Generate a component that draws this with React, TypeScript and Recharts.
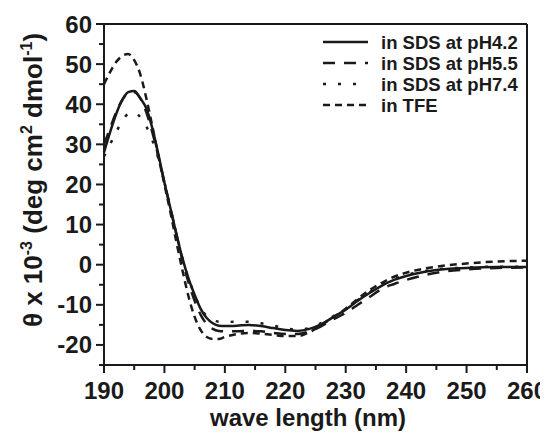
import React from "react";
import { LineChart, Line, XAxis, YAxis, ReferenceLine, Legend } from "recharts";

const wavelength = [190,191,192,193,194,195,196,197,198,199,200,201,202,203,204,205,206,207,208,209,210,212,214,216,218,220,222,224,226,228,230,232,234,236,238,240,245,250,255,260];
const sdsPH42 = [28,33,37.5,41,43,43.3,41.5,39,34,27.5,20.5,14,7.5,1.5,-3.5,-7.5,-11,-13.3,-14.6,-15.2,-15.3,-15.2,-15,-15.3,-15.8,-16.3,-16.5,-16,-14.8,-13,-11.2,-9,-7,-5.2,-3.8,-2.8,-1.3,-0.8,-0.6,-0.6];
const sdsPH55 = [30,34,38,41,42.8,43,41.5,38,33,27,20.5,14,7.5,1,-4.5,-9,-12.5,-14.8,-16,-16.5,-16.6,-16.6,-16.5,-16.6,-17,-17.3,-17.3,-16.6,-15.3,-13.6,-12,-10,-8,-6,-4.8,-3.8,-2,-1.2,-0.8,-0.7];
const sdsPH74 = [27,30,33,35.8,37.6,38,36.8,34.5,31,26.5,20.5,14,7.5,1.5,-3.5,-7.5,-10.8,-12.8,-13.8,-14.2,-14.3,-14.2,-14.2,-14.6,-15.2,-15.8,-16.2,-15.8,-14.5,-12.8,-11,-8.8,-6.8,-5,-3.6,-2.6,-1.2,-0.7,-0.5,-0.5];
const tfe = [45,48,50.5,52,52.5,51,47.5,41.5,34.5,27,20,13,5.5,-1.5,-8,-13,-16.3,-18,-18.5,-18.5,-18,-17.3,-17,-17.2,-17.5,-17.8,-17.8,-16.8,-15,-13,-11,-8.5,-6.3,-4.5,-3,-2,-0.5,0.3,0.8,1.0];

const seriesNames = ["in SDS at pH4.2", "in SDS at pH5.5", "in SDS at pH7.4", "in TFE"];
const xTicks = [190,195,200,205,210,215,220,225,230,235,240,245,250,255,260];
const xMajor = [190,200,210,220,230,240,250,260];
const yTicks = [-25,-20,-15,-10,-5,0,5,10,15,20,25,30,35,40,45,50,55,60];
const yMajor = [-20,-10,0,10,20,30,40,50,60];

const data = wavelength.map((w, i) => ({
  w,
  a: sdsPH42[i],
  b: sdsPH55[i],
  c: sdsPH74[i],
  d: tfe[i],
}));

const INK = "#1a1a1a";
const FONT = "'Liberation Sans', Arial, sans-serif";
const dashes = ["", "12 9", "3 12", "7 5"];
const keys = ["a", "b", "c", "d"];

const XTick = (props: any) => {
  const { x, y, payload } = props;
  const v = payload.value;
  const major = xMajor.includes(v);
  return (
    <g>
      <line x1={x} x2={x} y1={y} y2={y + (major ? 8 : 5)} stroke={INK} strokeWidth={2} />
      {major && (
        <text x={x} y={y + 34} textAnchor="middle" fontFamily={FONT} fontWeight="bold" fontSize={24} fill={INK}>
          {v}
        </text>
      )}
    </g>
  );
};

const YTick = (props: any) => {
  const { x, y, payload } = props;
  const v = payload.value;
  const major = yMajor.includes(v);
  return (
    <g>
      <line x1={x} x2={x - (major ? 8 : 5)} y1={y} y2={y} stroke={INK} strokeWidth={2} />
      {major && (
        <text x={x - 12} y={y + 8.5} textAnchor="end" fontFamily={FONT} fontWeight="bold" fontSize={24} fill={INK}>
          {v}
        </text>
      )}
    </g>
  );
};

const LegendBox = () => (
  <svg width={225} height={90} style={{ display: "block" }}>
    {seriesNames.map((n, i) => {
      const cy = 14 + i * 21;
      return (
        <g key={n}>
          <line x1={5} x2={50} y1={cy} y2={cy} stroke={INK} strokeWidth={2.5} strokeDasharray={dashes[i] || undefined} />
          <text x={63} y={cy + 6.5} fontFamily={FONT} fontWeight="bold" fontSize={18.5} fill={INK}>
            {n}
          </text>
        </g>
      );
    })}
  </svg>
);

const YLabel = () => (
  <text
    x={34}
    y={172}
    transform="rotate(-90, 34, 172)"
    textAnchor="middle"
    fontFamily={FONT}
    fontWeight="bold"
    fontSize={26}
    fill={INK}
  >
    <tspan>θ x 10</tspan>
    <tspan dy={-10} fontSize={16}>-3</tspan>
    <tspan dy={10}> (deg cm</tspan>
    <tspan dy={-10} fontSize={16}>2</tspan>
    <tspan dy={10}> dmol</tspan>
    <tspan dy={-10} fontSize={16}>-1</tspan>
    <tspan dy={10}>)</tspan>
  </text>
);

const XLabel = () => (
  <text x={300} y={418} textAnchor="middle" fontFamily={FONT} fontWeight="bold" fontSize={24} fill={INK}>
    wave length (nm)
  </text>
);

export default function App() {
  return (
    <LineChart width={540} height={425} data={data} margin={{ top: 16, right: 21, bottom: 0, left: 0 }}>
      <XAxis
        dataKey="w"
        type="number"
        domain={[190, 260]}
        ticks={xTicks}
        interval={0}
        height={68}
        tickSize={0}
        tickMargin={0}
        tickLine={false}
        axisLine={{ stroke: INK, strokeWidth: 2 }}
        tick={<XTick />}
        label={{ content: () => <XLabel /> }}
      />
      <YAxis
        type="number"
        domain={[-25, 60]}
        ticks={yTicks}
        interval={0}
        width={96}
        tickSize={0}
        tickMargin={0}
        tickLine={false}
        axisLine={{ stroke: INK, strokeWidth: 2 }}
        tick={<YTick />}
        label={{ content: () => <YLabel /> }}
      />
      <ReferenceLine y={60} stroke={INK} strokeWidth={2} />
      <ReferenceLine x={260} stroke={INK} strokeWidth={2} />
      {keys.map((k, i) => (
        <Line
          key={k}
          dataKey={k}
          name={seriesNames[i]}
          type="monotone"
          stroke={INK}
          strokeWidth={2.5}
          strokeDasharray={dashes[i] || undefined}
          dot={false}
          activeDot={false}
          isAnimationActive={false}
        />
      ))}
      <Legend
        layout="horizontal"
        verticalAlign="middle"
        align="center"
        content={() => <LegendBox />}
        wrapperStyle={{ position: "absolute", top: 20, left: 310, width: 225 }}
      />
    </LineChart>
  );
}
